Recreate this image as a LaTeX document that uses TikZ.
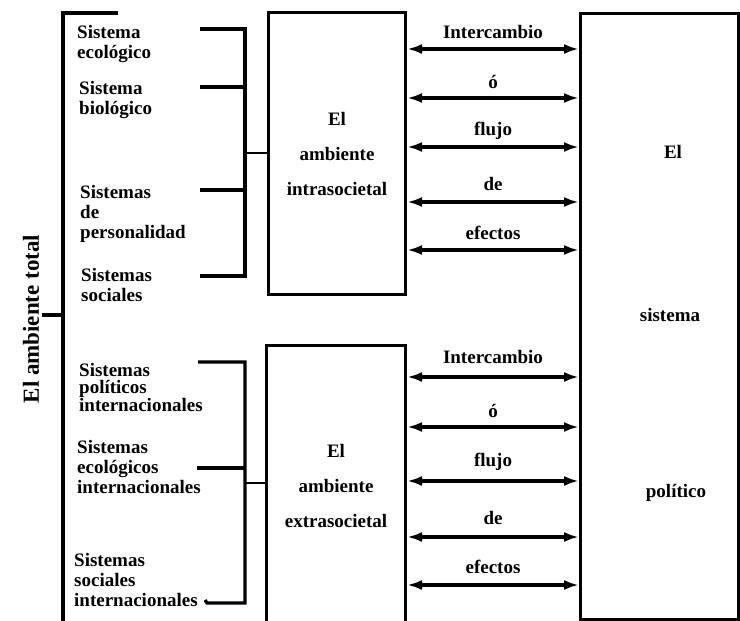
\documentclass[tikz,border=0pt]{standalone}
\usepackage{fontspec}
\setmainfont{Liberation Serif}
\usetikzlibrary{arrows.meta}
\begin{document}
\begin{tikzpicture}[x=1pt,y=-1pt,
  lbl/.style={font=\fontsize{19}{20}\selectfont\bfseries, align=left, inner sep=0pt, anchor=north west},
  boxtxt/.style={font=\fontsize{19}{35}\selectfont\bfseries, align=center},
  bigtxt/.style={font=\fontsize{19}{20}\selectfont\bfseries, inner sep=0pt},
  arrtxt/.style={font=\fontsize{19}{20}\selectfont\bfseries, inner sep=0pt, anchor=base},
  box/.style={draw, line width=3pt, inner sep=0pt},
  brk/.style={line width=3.2pt, line join=miter},
  arr/.style={line width=3.4pt, {Latex[length=15pt,width=10pt]}-{Latex[length=15pt,width=10pt]}}]
\useasboundingbox (0,0) rectangle (740,621);
% boxes
\node[box, boxtxt, anchor=north west, minimum width=137pt, minimum height=282pt] (intra) at (267,11) {El\\ambiente\\intrasocietal};
\node[box, boxtxt, anchor=north west, minimum width=139pt, minimum height=280pt] (extra) at (265,344) {El\\ambiente\\extrasocietal};
\node[box, anchor=north west, minimum width=158pt, minimum height=606pt] (pol) at (579,12) {};
\node[bigtxt] (polA) at (673,152) {El};
\node[bigtxt] (polB) at (670,315) {sistema};
\node[bigtxt] (polC) at (676,493) {político};
% total
\node[rotate=90, font=\fontsize{23}{24}\selectfont\bfseries, inner sep=0pt] (total) at (31,319) {El ambiente total};
\coordinate (otop) at (118,13);
\coordinate (ocorner) at (63,13);
\coordinate (obot) at (63,623);
\coordinate (otick) at (42,315);
\draw[brk] (otop) -- (ocorner) -- (obot);
\draw[brk] (otick) -- (otick -| ocorner);
% upper labels
\node[lbl] (l1) at (77,25) {Sistema\\ecológico};
\node[lbl] (l2) at (79,81) {Sistema\\biológico};
\node[lbl] (l3) at (80,185) {Sistemas\\de\\personalidad};
\node[lbl] (l4) at (81,268) {Sistemas\\sociales};
% lower labels
\node[lbl, font=\fontsize{19}{17.5}\selectfont\bfseries] (m1) at (79,363) {Sistemas\\políticos\\internacionales};
\node[lbl] (m2) at (77,440) {Sistemas\\ecológicos\\internacionales};
\node[lbl] (m3) at (74,553) {Sistemas\\sociales\\internacionales};
% upper bracket
\draw[brk] (200,29) -- (245,29) -- (245,276) -- (200,276);
\draw[brk] (200,87) -- (245,87);
\draw[brk] (200,190) -- (245,190);
\coordinate (bu) at (245,153);
\draw[line width=2.4pt] (bu) -- (intra.west |- bu);
% lower bracket
\draw[brk] (198,362) -- (245,362) -- (245,603) -- (207,603) -- (205,600);
\draw[brk] (197,468) -- (245,468);
\coordinate (bl) at (245,483);
\draw[line width=2.4pt] (bl) -- (extra.west |- bl);
% arrows upper
\foreach \y/\t/\d in {49/Intercambio/11, 98/ó/10, 147/flujo/12, 202/de/12, 250/efectos/11}{
  \coordinate (u) at (0,\y);
  \draw[arr] (intra.east |- u) -- node[arrtxt, midway, yshift=\d pt]{\t} (pol.west |- u);
}
% arrows lower
\foreach \y/\t/\d in {377/Intercambio/14, 427/ó/10, 481/flujo/15, 537/de/13, 585/efectos/12}{
  \coordinate (v) at (0,\y);
  \draw[arr] (extra.east |- v) -- node[arrtxt, midway, yshift=\d pt]{\t} (pol.west |- v);
}
\end{tikzpicture}
\end{document}
